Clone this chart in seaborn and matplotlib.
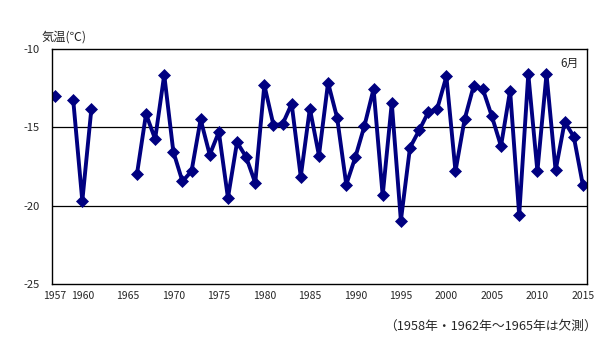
import numpy as np
import pandas as pd
import matplotlib
matplotlib.use("Agg")
import matplotlib.pyplot as plt
import seaborn as sns

# June mean temperature (°C); 1958 and 1962-1965 not observed
years = [1957,
         1959, 1960, 1961,
         1966, 1967, 1968, 1969, 1970, 1971, 1972, 1973, 1974, 1975,
         1976, 1977, 1978, 1979, 1980, 1981, 1982, 1983, 1984, 1985,
         1986, 1987, 1988, 1989, 1990, 1991, 1992, 1993, 1994, 1995,
         1996, 1997, 1998, 1999, 2000, 2001, 2002, 2003, 2004, 2005,
         2006, 2007, 2008, 2009, 2010, 2011, 2012, 2013, 2014, 2015]
temps = [-13.0,
         -13.25, -19.7, -13.8,
         -18.0, -14.15, -15.75, -11.65, -16.55, -18.45, -17.8, -14.5, -16.75, -15.3,
         -19.5, -15.95, -16.9, -18.55, -12.3, -14.85, -14.8, -13.5, -18.15, -13.8,
         -16.8, -12.15, -14.4, -18.65, -16.9, -14.9, -12.55, -19.35, -13.45, -20.95,
         -16.3, -15.2, -14.05, -13.8, -11.75, -17.8, -14.5, -12.35, -12.55, -14.3,
         -16.2, -12.65, -20.6, -11.6, -17.8, -11.6, -17.75, -14.65, -15.6, -18.7]
# continuous runs of observations (lines are broken at missing years)
segments = [1] * 1 + [2] * 3 + [3] * 50

xticks = [1957, 1960, 1965, 1970, 1975, 1980, 1985, 1990, 1995, 2000, 2005, 2010, 2015]
yticks = [-10, -15, -20, -25]

df = pd.DataFrame({"year": years, "temp": temps, "seg": segments})

sns.set_style("white")
plt.rcParams["font.family"] = ["Noto Sans CJK JP", "DejaVu Sans"]
plt.rcParams["axes.unicode_minus"] = False

fig = plt.figure(figsize=(6.03, 3.40), dpi=100)
ax = fig.add_axes([52 / 603, 1 - 284 / 340, (587 - 52) / 603, (284 - 49) / 340])

navy = "#000080"
for seg, sub in df.groupby("seg"):
    sns.lineplot(data=sub, x="year", y="temp", ax=ax, color=navy, linewidth=2.8,
                 marker="D", markersize=6, markeredgecolor=navy, markeredgewidth=0.5,
                 estimator=None, sort=True, legend=False)

ax.set_xlim(1956.67, 2015.45)
ax.set_ylim(-25, -10)
ax.set_xticks(xticks)
ax.set_xticklabels([str(t) for t in xticks], fontsize=7.5)
ax.set_yticks(yticks)
ax.set_yticklabels([str(t) for t in yticks], fontsize=8)
ax.tick_params(axis="x", length=0, pad=5)
ax.tick_params(axis="y", length=0, pad=9)
ax.set_xlabel("")
ax.set_ylabel("")

for yv in [-15, -20]:
    ax.axhline(yv, color="black", linewidth=0.9, zorder=0)
for sp in ax.spines.values():
    sp.set_color("black")
    sp.set_linewidth(1.0)
    sp.set_visible(True)

fig.text(64 / 603, 1 - 37 / 340, "気温(℃)", ha="center", va="center", fontsize=8.8)
ax.text(0.985, 0.965, "6月", transform=ax.transAxes, ha="right", va="top", fontsize=8.5)
fig.text(597 / 603, 1 - 326 / 340, "（1958年・1962年～1965年は欠測）",
         ha="right", va="center", fontsize=9.2)

fig.savefig("out.png", dpi=100)
